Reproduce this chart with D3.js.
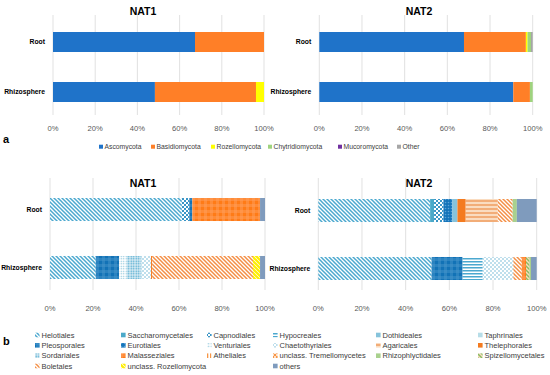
<!DOCTYPE html>
<html><head><meta charset="utf-8">
<script src="https://cdn.jsdelivr.net/npm/d3@7"></script>
<style>body{margin:0;background:#fff}svg{display:block;font-family:"Liberation Sans",Arial,sans-serif}</style>
</head><body><svg id="c" width="550" height="375"></svg>
<script>
// ---------- DATA ----------
const samples = ["Root", "Rhizosphere"];
const tickValues = [0, 20, 40, 60, 80, 100];

// panel a: phyla (% relative abundance)
const phyla = ["Ascomycota", "Basidiomycota", "Rozellomycota", "Chytridiomycota", "Mucoromycota", "Other"];
const nat1PhylaRoot = [67.3, 32.7, 0, 0, 0, 0];
const nat1PhylaRhizo = [48.3, 47.9, 3.8, 0, 0, 0];
const nat2PhylaRoot = [67.8, 29.0, 0.8, 1.6, 0, 0.8];
const nat2PhylaRhizo = [90.9, 7.8, 0, 1.3, 0, 0];

// panel b: orders (legend order)
const orders = ["Helotiales", "Saccharomycetales", "Capnodiales", "Hypocreales", "Dothideales", "Taphrinales",
  "Pleosporales", "Eurotiales", "Venturiales", "Chaetothyriales", "Agaricales", "Thelephorales",
  "Sordariales", "Malasseziales", "Atheliales", "unclass. Tremellomycetes", "Rhizophlyctidales", "Spizellomycetales",
  "Boletales", "unclass. Rozellomycota", "others"];
//                    Hel  Sac  Cap  Hyp  Dot  Tap  Ple  Eur  Ven  Cha  Aga  The  Sor  Mal  Ath  Tre  Rhi  Spi  Bol  Roz  oth
const nat1OrdRoot  = [61.2, 0, 3.6, 0, 0, 0, 1.4, 0, 0, 0, 0, 0, 0, 31.5, 0, 0, 0, 0, 0, 0, 2.3];
const nat1OrdRhizo = [21.3, 0, 0, 0, 0, 0, 10.8, 0, 3.6, 4.4, 0, 0.5, 6.9, 0, 0, 0, 0, 0, 46.9, 3.3, 2.3];
const nat2OrdRoot  = [51.2, 1.8, 4.3, 0, 2.3, 0, 0, 4.1, 0, 0, 14.7, 3.8, 0, 0, 0, 0, 1.9, 0, 6.8, 0, 9.1];
const nat2OrdRhizo = [51.9, 0, 0, 9.2, 0, 0, 14.2, 0, 0, 14.0, 0, 0, 0, 1.9, 0, 0, 0.7, 1.6, 3.9, 0, 2.6];

// stacking order of orders inside the bars
const orderStack = ["Helotiales", "Saccharomycetales", "Capnodiales", "Pleosporales", "Eurotiales", "Dothideales",
  "Taphrinales", "Hypocreales", "Venturiales", "Sordariales", "Chaetothyriales", "Thelephorales", "Atheliales",
  "Agaricales", "unclass. Tremellomycetes", "Boletales", "Malasseziales", "Spizellomycetales", "Rhizophlyctidales",
  "unclass. Rozellomycota", "others"];

// ---------- STYLES ----------
const phylaColor = {
  "Ascomycota": "#1f73c9", "Basidiomycota": "#ff7f27", "Rozellomycota": "#ffff00",
  "Chytridiomycota": "#9fd37e", "Mucoromycota": "#7030a0", "Other": "#a6a6a6"
};
const orderStyle = {
  "Helotiales": {t: "hatch", c: "#4ba8cf", bg: "#fff", w: 1.5},
  "Saccharomycetales": {t: "solid", c: "#4ba9c9"},
  "Capnodiales": {t: "checker", c: "#3a95c6", bg: "#fff", s: 2},
  "Hypocreales": {t: "hlines", c: "#4ba8cf", bg: "#fff", p: 3, w: 1.5},
  "Dothideales": {t: "solid", c: "#86c3db"},
  "Taphrinales": {t: "solid", c: "#b7dde8"},
  "Pleosporales": {t: "plaid", c: "#1272b6", l: "#4a98cc"},
  "Eurotiales": {t: "dots", c: "#5aa3d6", bg: "#1474ba", s: 3, r: 0.8},
  "Venturiales": {t: "dots", c: "#7fbfd8", bg: "#fff", s: 2.5, r: 0.7},
  "Chaetothyriales": {t: "checker", c: "#bfdfec", bg: "#fff", s: 2},
  "Agaricales": {t: "hlines", c: "#f2ad78", bg: "#fadcc0", p: 4, w: 2},
  "Thelephorales": {t: "solid", c: "#f47b20"},
  "Sordariales": {t: "dots", c: "#4ba8cf", bg: "#dcedf4", s: 2.5, r: 0.8},
  "Malasseziales": {t: "plaid", c: "#ff7b17", l: "#ffa060"},
  "Atheliales": {t: "vlines", c: "#f79646", bg: "#fff", p: 3, w: 1.3},
  "unclass. Tremellomycetes": {t: "checker", c: "#f79646", bg: "#fde0c8", s: 2},
  "Rhizophlyctidales": {t: "solid", c: "#a9d18e"},
  "Spizellomycetales": {t: "hatch", c: "#86bd62", bg: "#fbd9bd", w: 1.4},
  "Boletales": {t: "hatch", c: "#f48f45", bg: "#fff", w: 1.5},
  "unclass. Rozellomycota": {t: "hatch", c: "#ffee00", bg: "#fff", w: 2.2},
  "others": {t: "solid", c: "#7f9bbd"}
};

// ---------- DRAW ----------
const svg = d3.select("#c");
const defs = svg.append("defs");

function pat(id, w, h, bg) {
  const p = defs.append("pattern").attr("id", id).attr("patternUnits", "userSpaceOnUse")
    .attr("width", w).attr("height", h);
  if (bg) p.append("rect").attr("width", w).attr("height", h).attr("fill", bg);
  return p;
}
const orderFill = {};
orders.forEach((o, i) => {
  const st = orderStyle[o];
  const id = "p" + i;
  if (st.t === "solid") { orderFill[o] = st.c; return; }
  let p;
  if (st.t === "hatch") {
    p = pat(id, 4, 4, st.bg);
    p.append("path").attr("d", "M-1,-1L5,5M-1,3L1,5M3,-1L5,1").attr("stroke", st.c).attr("stroke-width", st.w);
  } else if (st.t === "checker") {
    p = pat(id, st.s * 2, st.s * 2, st.bg);
    p.append("rect").attr("width", st.s).attr("height", st.s).attr("fill", st.c);
    p.append("rect").attr("x", st.s).attr("y", st.s).attr("width", st.s).attr("height", st.s).attr("fill", st.c);
  } else if (st.t === "hlines") {
    p = pat(id, 4, st.p, st.bg);
    p.append("rect").attr("width", 4).attr("height", st.w).attr("fill", st.c);
  } else if (st.t === "vlines") {
    p = pat(id, st.p, 4, st.bg);
    p.append("rect").attr("width", st.w).attr("height", 4).attr("fill", st.c);
  } else if (st.t === "dots") {
    p = pat(id, st.s, st.s, st.bg);
    p.append("circle").attr("cx", st.s / 2).attr("cy", st.s / 2).attr("r", st.r).attr("fill", st.c);
  } else if (st.t === "plaid") {
    p = pat(id, 6, 6, st.c);
    p.append("rect").attr("width", 6).attr("height", 3).attr("fill", st.l).attr("opacity", 0.45);
    p.append("rect").attr("width", 3).attr("height", 6).attr("fill", st.l).attr("opacity", 0.45);
  }
  orderFill[o] = "url(#" + id + ")";
});

function drawPanel(cfg) {
  const g = svg.append("g");
  const x = d3.scaleLinear().domain([0, 100]).range(cfg.xr);
  const y = d3.scaleBand().domain(samples).range(cfg.yr).paddingInner(cfg.pi).paddingOuter(cfg.po);
  g.selectAll(".grid").data(tickValues).join("line")
    .attr("x1", d => x(d)).attr("x2", d => x(d)).attr("y1", cfg.gy[0]).attr("y2", cfg.gy[1])
    .attr("stroke", "#d9d9d9").attr("stroke-width", 0.8);
  g.selectAll(".tl").data(tickValues).join("text")
    .attr("x", d => x(d)).attr("y", cfg.ty).attr("text-anchor", "middle")
    .attr("font-size", 7.6).attr("fill", "#595959").text(d => d + "%");
  const rows = samples.map((s, i) => {
    const r = {sample: s};
    cfg.keys.forEach(k => r[k] = cfg.values[i][cfg.keyIndex(k)]);
    return r;
  });
  const series = d3.stack().keys(cfg.keys)(rows);
  series.forEach(layer => {
    g.selectAll(null).data(layer.filter(d => d[1] - d[0] > 0)).join("rect")
      .attr("x", d => x(d[0])).attr("width", d => x(d[1]) - x(d[0]))
      .attr("y", d => y(d.data.sample)).attr("height", y.bandwidth())
      .attr("fill", cfg.fill(layer.key));
  });
  g.selectAll(".cl").data(samples).join("text")
    .attr("x", x(0) - 8).attr("y", d => y(d) + y.bandwidth() / 2 + 2.4)
    .attr("text-anchor", "end").attr("font-size", 6.8).attr("font-weight", "bold").attr("fill", "#000")
    .text(d => d);
  g.append("text").attr("x", cfg.tx).attr("y", cfg.tyTitle).attr("text-anchor", "middle")
    .attr("font-size", 10.5).attr("font-weight", "bold").attr("fill", "#000").text(cfg.title);
}

const phylaIdx = k => phyla.indexOf(k);
const orderIdx = k => orders.indexOf(k);

drawPanel({title: "NAT1", tx: 143, tyTitle: 15, xr: [53, 264], yr: [17, 117], pi: 0.6, po: 0.3, gy: [15, 115], ty: 131,
  keys: phyla, keyIndex: phylaIdx, values: [nat1PhylaRoot, nat1PhylaRhizo], fill: k => phylaColor[k]});
drawPanel({title: "NAT2", tx: 419, tyTitle: 15, xr: [319.3, 532.7], yr: [17, 117], pi: 0.6, po: 0.3, gy: [15, 115], ty: 131,
  keys: phyla, keyIndex: phylaIdx, values: [nat2PhylaRoot, nat2PhylaRhizo], fill: k => phylaColor[k]});
drawPanel({title: "NAT1", tx: 143, tyTitle: 187, xr: [50, 265], yr: [180.6, 296.4], pi: 0.603, po: 0.3, gy: [178, 290], ty: 311,
  keys: orderStack, keyIndex: orderIdx, values: [nat1OrdRoot, nat1OrdRhizo], fill: k => orderFill[k]});
drawPanel({title: "NAT2", tx: 419, tyTitle: 187, xr: [318.3, 536.7], yr: [181.6, 297.4], pi: 0.603, po: 0.3, gy: [178, 290], ty: 311,
  keys: orderStack, keyIndex: orderIdx, values: [nat2OrdRoot, nat2OrdRhizo], fill: k => orderFill[k]});

svg.append("text").attr("x", 3).attr("y", 143).attr("font-size", 11).attr("font-weight", "bold").text("a");
svg.append("text").attr("x", 3).attr("y", 345).attr("font-size", 11).attr("font-weight", "bold").text("b");

// legend a
const legAx = [99, 151, 211, 268, 338, 397];
const la = svg.append("g");
phyla.forEach((p, i) => {
  la.append("rect").attr("x", legAx[i]).attr("y", 144.7).attr("width", 4).attr("height", 4).attr("fill", phylaColor[p]);
  la.append("text").attr("x", legAx[i] + 5.5).attr("y", 149.2).attr("font-size", 6.8).attr("fill", "#404040").text(p);
});

// legend b (6 columns, last row skips column 3)
const legBx = [35, 121, 207, 273, 376, 478];
const legBy = [335, 345.3, 355.7, 366];
const lb = svg.append("g");
orders.forEach((o, i) => {
  let row = Math.floor(i / 6), col = i % 6;
  if (row === 3 && col === 2) col = 3;
  const x0 = legBx[col], yc = legBy[row];
  lb.append("rect").attr("x", x0).attr("y", yc - 2.3).attr("width", 4.6).attr("height", 4.6).attr("fill", orderFill[o]);
  lb.append("text").attr("x", x0 + 6.5).attr("y", yc + 2.7).attr("font-size", 7.5).attr("fill", "#404040").text(o);
});
</script></body></html>
